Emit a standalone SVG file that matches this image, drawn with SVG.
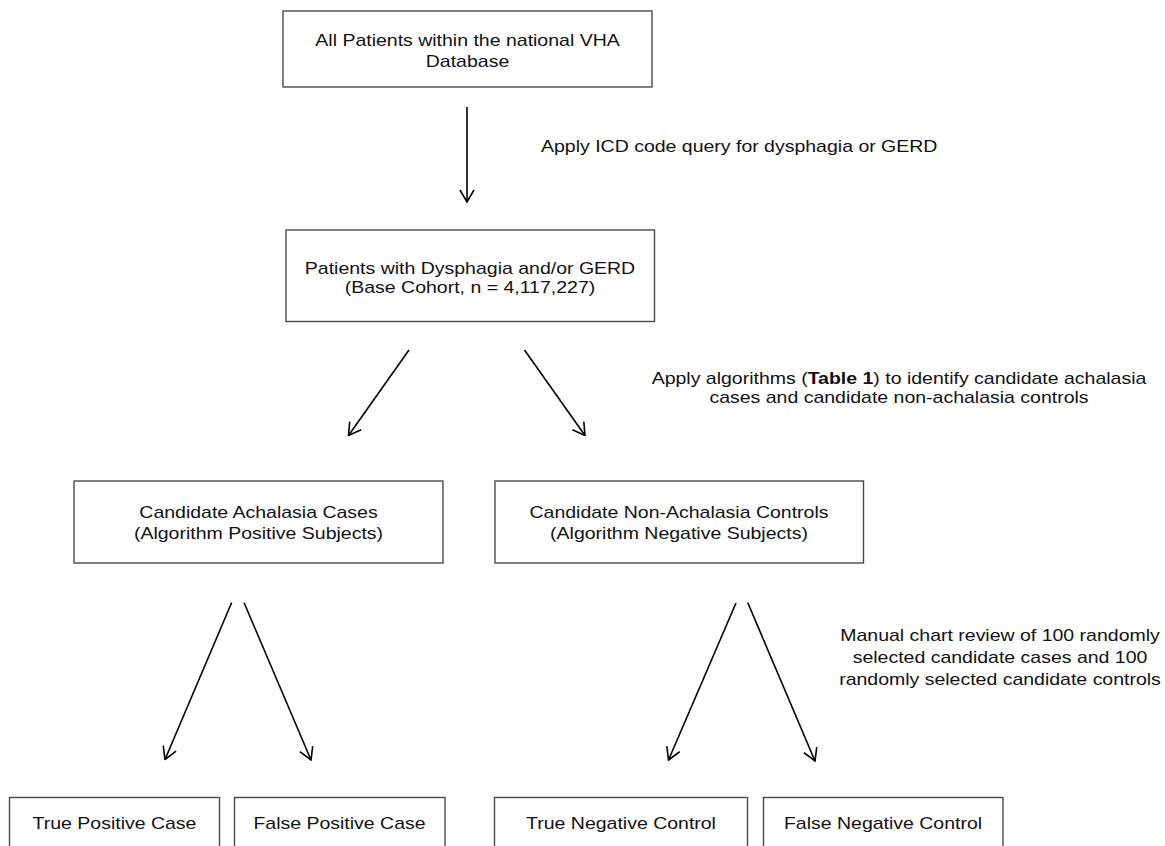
<svg xmlns="http://www.w3.org/2000/svg" width="1165" height="846" viewBox="0 0 1165 846">
<style>
.box{fill:#fff;stroke:#4a4a4a;stroke-width:1.4}
.t{font-family:"Liberation Sans",Arial,sans-serif;font-size:17px;fill:#111;text-anchor:middle}
.ts{font-family:"Liberation Sans",Arial,sans-serif;font-size:17px;fill:#111}
.c{stroke:#000;stroke-width:1.6;fill:none}
</style>
<defs>
<marker id="ah" markerUnits="userSpaceOnUse" viewBox="0 0 14 16" markerWidth="14" markerHeight="16" refX="13" refY="8" orient="auto">
<path d="M1,1 L13,8 L1,15" fill="none" stroke="#000" stroke-width="1.6"/>
</marker>
</defs>
<rect width="1165" height="846" fill="#fff"/>
<g id="n1">
<rect class="box" x="283" y="11" width="369" height="76"/>
<text class="t" transform="translate(467.5,45.5) scale(1.147,1)">All Patients within the national VHA</text>
<text class="t" transform="translate(467.5,66.5) scale(1.147,1)">Database</text>
</g>
<g id="n2">
<rect class="box" x="286" y="230" width="368.5" height="91.5"/>
<text class="t" transform="translate(470,274) scale(1.147,1)">Patients with Dysphagia and/or GERD</text>
<text class="t" transform="translate(470,293) scale(1.147,1)">(Base Cohort, n = 4,117,227)</text>
</g>
<g id="n3">
<rect class="box" x="74" y="481" width="369" height="82"/>
<text class="t" transform="translate(258.5,518) scale(1.147,1)">Candidate Achalasia Cases</text>
<text class="t" transform="translate(258.5,539) scale(1.147,1)">(Algorithm Positive Subjects)</text>
</g>
<g id="n4">
<rect class="box" x="495" y="481" width="368.5" height="82"/>
<text class="t" transform="translate(679,518) scale(1.147,1)">Candidate Non-Achalasia Controls</text>
<text class="t" transform="translate(679,539) scale(1.147,1)">(Algorithm Negative Subjects)</text>
</g>
<g id="n5">
<rect class="box" x="9.5" y="797.5" width="210" height="60"/>
<text class="t" transform="translate(114.5,829) scale(1.147,1)">True Positive Case</text>
</g>
<g id="n6">
<rect class="box" x="234.5" y="797.5" width="210.5" height="60"/>
<text class="t" transform="translate(339.5,829) scale(1.147,1)">False Positive Case</text>
</g>
<g id="n7">
<rect class="box" x="494.5" y="797.5" width="253" height="60"/>
<text class="t" transform="translate(621,829) scale(1.147,1)">True Negative Control</text>
</g>
<g id="n8">
<rect class="box" x="763.5" y="797.5" width="239.5" height="60"/>
<text class="t" transform="translate(883,829) scale(1.147,1)">False Negative Control</text>
</g>
<g id="labels">
<text class="ts" transform="translate(541,152) scale(1.147,1)">Apply ICD code query for dysphagia or GERD</text>
<text class="t" transform="translate(899,384) scale(1.147,1)">Apply algorithms (<tspan font-weight="bold">Table 1</tspan>) to identify candidate achalasia</text>
<text class="t" transform="translate(899,403) scale(1.147,1)">cases and candidate non-achalasia controls</text>
<text class="t" transform="translate(1000,641) scale(1.147,1)">Manual chart review of 100 randomly</text>
<text class="t" transform="translate(1000,663) scale(1.147,1)">selected candidate cases and 100</text>
<text class="t" transform="translate(1000,685) scale(1.147,1)">randomly selected candidate controls</text>
</g>
<g id="connectors">
<line class="c" x1="467" y1="107" x2="467" y2="202" marker-end="url(#ah)"/>
<line class="c" x1="409" y1="350" x2="348.5" y2="435.5" marker-end="url(#ah)"/>
<line class="c" x1="524.5" y1="350" x2="585" y2="435.5" marker-end="url(#ah)"/>
<line class="c" x1="231.7" y1="602.5" x2="165" y2="759.5" marker-end="url(#ah)"/>
<line class="c" x1="244" y1="602.5" x2="311" y2="760" marker-end="url(#ah)"/>
<line class="c" x1="736" y1="603" x2="668.5" y2="760" marker-end="url(#ah)"/>
<line class="c" x1="747.7" y1="602.5" x2="815" y2="761" marker-end="url(#ah)"/>
</g>
</svg>
